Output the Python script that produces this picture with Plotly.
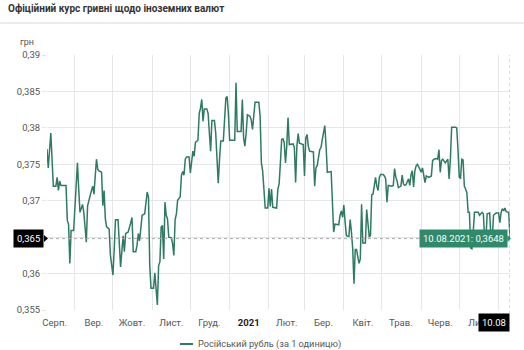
import plotly.graph_objects as go

# ---- data -------------------------------------------------------------
dates = [
    "2020-08-10", "2020-08-11", "2020-08-13", "2020-08-14", "2020-08-15", "2020-08-17", "2020-08-18",
    "2020-08-19", "2020-08-20", "2020-08-21", "2020-08-25", "2020-08-26", "2020-08-27", "2020-08-28",
    "2020-08-29", "2020-08-31", "2020-09-01", "2020-09-03", "2020-09-04", "2020-09-05", "2020-09-07",
    "2020-09-08", "2020-09-10", "2020-09-11", "2020-09-13", "2020-09-15", "2020-09-16", "2020-09-17",
    "2020-09-18", "2020-09-19", "2020-09-20", "2020-09-22", "2020-09-23", "2020-09-24", "2020-09-25",
    "2020-09-26", "2020-09-28", "2020-09-29", "2020-10-01", "2020-10-02", "2020-10-03", "2020-10-05",
    "2020-10-06", "2020-10-07", "2020-10-09", "2020-10-10", "2020-10-11", "2020-10-13", "2020-10-15",
    "2020-10-16", "2020-10-17", "2020-10-19", "2020-10-20", "2020-10-21", "2020-10-22", "2020-10-23",
    "2020-10-24", "2020-10-26", "2020-10-27", "2020-10-28", "2020-10-29", "2020-10-30", "2020-10-31",
    "2020-11-02", "2020-11-03", "2020-11-04", "2020-11-05", "2020-11-06", "2020-11-07", "2020-11-08",
    "2020-11-09", "2020-11-10", "2020-11-11", "2020-11-12", "2020-11-13", "2020-11-14", "2020-11-16",
    "2020-11-17", "2020-11-18", "2020-11-19", "2020-11-20", "2020-11-21", "2020-11-23", "2020-11-24",
    "2020-11-25", "2020-11-26", "2020-11-27", "2020-11-28", "2020-11-30", "2020-12-01", "2020-12-02",
    "2020-12-03", "2020-12-04", "2020-12-05", "2020-12-07", "2020-12-08", "2020-12-09", "2020-12-10",
    "2020-12-11", "2020-12-12", "2020-12-14", "2020-12-15", "2020-12-16", "2020-12-17", "2020-12-18",
    "2020-12-20", "2020-12-21", "2020-12-22", "2020-12-23", "2020-12-24", "2020-12-25", "2020-12-27",
    "2020-12-28", "2020-12-29", "2020-12-30", "2020-12-31", "2021-01-01", "2021-01-05", "2021-01-06",
    "2021-01-07", "2021-01-10", "2021-01-11", "2021-01-12", "2021-01-13", "2021-01-14", "2021-01-15",
    "2021-01-17", "2021-01-18", "2021-01-19", "2021-01-20", "2021-01-21", "2021-01-24", "2021-01-25",
    "2021-01-26", "2021-01-27", "2021-01-28", "2021-01-29", "2021-01-31", "2021-02-01", "2021-02-02",
    "2021-02-03", "2021-02-04", "2021-02-07", "2021-02-08", "2021-02-09", "2021-02-10", "2021-02-11",
    "2021-02-12", "2021-02-13", "2021-02-14", "2021-02-15", "2021-02-16", "2021-02-17", "2021-02-20",
    "2021-02-21", "2021-02-22", "2021-02-23", "2021-02-24", "2021-02-25", "2021-02-28", "2021-03-01",
    "2021-03-02", "2021-03-03", "2021-03-04", "2021-03-05", "2021-03-08", "2021-03-09", "2021-03-10",
    "2021-03-11", "2021-03-13", "2021-03-14", "2021-03-15", "2021-03-17", "2021-03-18", "2021-03-19",
    "2021-03-22", "2021-03-23", "2021-03-24", "2021-03-25", "2021-03-28", "2021-03-29", "2021-03-30",
    "2021-03-31", "2021-04-01", "2021-04-02", "2021-04-03", "2021-04-05", "2021-04-06", "2021-04-07",
    "2021-04-08", "2021-04-09", "2021-04-10", "2021-04-11", "2021-04-12", "2021-04-13", "2021-04-14",
    "2021-04-15", "2021-04-16", "2021-04-18", "2021-04-19", "2021-04-20", "2021-04-21", "2021-04-22",
    "2021-04-23", "2021-04-24", "2021-04-26", "2021-04-27", "2021-04-28", "2021-04-29", "2021-04-30",
    "2021-05-02", "2021-05-03", "2021-05-04", "2021-05-05", "2021-05-06", "2021-05-09", "2021-05-10",
    "2021-05-11", "2021-05-12", "2021-05-13", "2021-05-14", "2021-05-16", "2021-05-17", "2021-05-18",
    "2021-05-19", "2021-05-20", "2021-05-22", "2021-05-23", "2021-05-24", "2021-05-25", "2021-05-26",
    "2021-05-27", "2021-05-28", "2021-05-29", "2021-05-31", "2021-06-01", "2021-06-02", "2021-06-03",
    "2021-06-04", "2021-06-05", "2021-06-07", "2021-06-09", "2021-06-10", "2021-06-11", "2021-06-13",
    "2021-06-14", "2021-06-15", "2021-06-16", "2021-06-17", "2021-06-18", "2021-06-20", "2021-06-22",
    "2021-06-23", "2021-06-24", "2021-06-25", "2021-06-28", "2021-06-29", "2021-06-30", "2021-07-01",
    "2021-07-02", "2021-07-03", "2021-07-04", "2021-07-05", "2021-07-06", "2021-07-07", "2021-07-08",
    "2021-07-09", "2021-07-10", "2021-07-11", "2021-07-12", "2021-07-13", "2021-07-16", "2021-07-17",
    "2021-07-19", "2021-07-20", "2021-07-21", "2021-07-22", "2021-07-23", "2021-07-25", "2021-07-26",
    "2021-07-27", "2021-07-28", "2021-07-30", "2021-08-01", "2021-08-02", "2021-08-03", "2021-08-04",
    "2021-08-05", "2021-08-06", "2021-08-07", "2021-08-09", "2021-08-10",
]

rub_rate = [
    0.3771, 0.3745, 0.3793, 0.3743, 0.3720, 0.3720, 0.3732,
    0.3714, 0.3727, 0.3721, 0.3721, 0.3673, 0.3668, 0.3614,
    0.3659, 0.3659, 0.3693, 0.3752, 0.3716, 0.3684, 0.3695,
    0.3684, 0.3643, 0.3693, 0.3707, 0.3720, 0.3709, 0.3741,
    0.3757, 0.3743, 0.3741, 0.3739, 0.3693, 0.3714, 0.3675,
    0.3664, 0.3661, 0.3625, 0.3598, 0.3634, 0.3674, 0.3674,
    0.3639, 0.3609, 0.3652, 0.3630, 0.3655, 0.3657, 0.3670,
    0.3677, 0.3630, 0.3630, 0.3639, 0.3655, 0.3645, 0.3664,
    0.3680, 0.3682, 0.3702, 0.3712, 0.3705, 0.3611, 0.3580,
    0.3580, 0.3601, 0.3580, 0.3557, 0.3611, 0.3616, 0.3664,
    0.3666, 0.3620, 0.3698, 0.3680, 0.3675, 0.3650, 0.3649,
    0.3641, 0.3625, 0.3674, 0.3682, 0.3701, 0.3705, 0.3735,
    0.3740, 0.3735, 0.3757, 0.3760, 0.3760, 0.3738, 0.3755,
    0.3768, 0.3761, 0.3780, 0.3783, 0.3820, 0.3827, 0.3839,
    0.3809, 0.3826, 0.3826, 0.3820, 0.3793, 0.3768, 0.3810,
    0.3810, 0.3793, 0.3755, 0.3724, 0.3757, 0.3782, 0.3782,
    0.3816, 0.3841, 0.3843, 0.3820, 0.3783, 0.3783, 0.3862,
    0.3795, 0.3795, 0.3839, 0.3786, 0.3775, 0.3793, 0.3818,
    0.3816, 0.3811, 0.3798, 0.3818, 0.3835, 0.3835, 0.3816,
    0.3752, 0.3741, 0.3716, 0.3690, 0.3690, 0.3717, 0.3692,
    0.3716, 0.3691, 0.3690, 0.3716, 0.3723, 0.3752, 0.3784,
    0.3785, 0.3780, 0.3752, 0.3775, 0.3814, 0.3777, 0.3778,
    0.3773, 0.3725, 0.3775, 0.3792, 0.3779, 0.3777, 0.3734,
    0.3786, 0.3791, 0.3775, 0.3768, 0.3767, 0.3720, 0.3745,
    0.3748, 0.3770, 0.3773, 0.3784, 0.3803, 0.3775, 0.3739,
    0.3740, 0.3705, 0.3657, 0.3668, 0.3667, 0.3680, 0.3686,
    0.3677, 0.3694, 0.3671, 0.3652, 0.3651, 0.3674, 0.3657,
    0.3634, 0.3586, 0.3633, 0.3633, 0.3623, 0.3614, 0.3620,
    0.3695, 0.3642, 0.3642, 0.3688, 0.3670, 0.3651, 0.3652,
    0.3708, 0.3709, 0.3732, 0.3720, 0.3714, 0.3732, 0.3736,
    0.3736, 0.3734, 0.3730, 0.3698, 0.3721, 0.3720, 0.3721,
    0.3744, 0.3732, 0.3727, 0.3718, 0.3720, 0.3735, 0.3723,
    0.3721, 0.3722, 0.3730, 0.3721, 0.3736, 0.3741, 0.3719,
    0.3741, 0.3748, 0.3750, 0.3743, 0.3739, 0.3745, 0.3732,
    0.3725, 0.3734, 0.3732, 0.3734, 0.3755, 0.3757, 0.3758,
    0.3757, 0.3770, 0.3739, 0.3755, 0.3757, 0.3752, 0.3757,
    0.3730, 0.3757, 0.3801, 0.3801, 0.3800, 0.3770, 0.3732,
    0.3731, 0.3757, 0.3756, 0.3720, 0.3716, 0.3711, 0.3684,
    0.3684, 0.3635, 0.3634, 0.3657, 0.3684, 0.3684, 0.3680,
    0.3684, 0.3682, 0.3648, 0.3646, 0.3682, 0.3683, 0.3648,
    0.3646, 0.3680, 0.3683, 0.3683, 0.3670, 0.3684, 0.3689,
    0.3686, 0.3690, 0.3685, 0.3684, 0.3648,
]

y_tickvals = [0.355, 0.36, 0.365, 0.37, 0.375, 0.38, 0.385, 0.39]
y_ticktext = ["0,355", "0,36", "0,365", "0,37", "0,375", "0,38", "0,385", "0,39"]

month_starts = ["2020-09-01", "2020-10-01", "2020-11-01", "2020-12-01", "2021-01-01", "2021-02-01",
                "2021-03-01", "2021-04-01", "2021-05-01", "2021-06-01", "2021-07-01", "2021-08-01"]
month_mids = ["2020-08-16", "2020-09-16", "2020-10-16", "2020-11-16", "2020-12-16", "2021-01-16",
              "2021-02-15", "2021-03-16", "2021-04-16", "2021-05-16", "2021-06-16", "2021-07-16"]
month_labels = ["Серп.", "Вер.", "Жовт.", "Лист.", "Груд.", "<b><span style='color:#222'>2021</span></b>",
                "Лют.", "Бер.", "Квіт.", "Трав.", "Черв.", "Лип."]

title_text = "Офіційний курс гривні щодо іноземних валют"
unit_text = "грн"
series_name = "Російський рубль (за 1 одиницю)"

# ---- style ------------------------------------------------------------
FONT = "Roboto, sans-serif"
LINE = "#2f7a63"
TIP = "#2e8a6b"
GRID = "#e6e6e6"
TXT = "#555555"
W, H = 524, 350
L, R, T, B = 47, 510, 55, 310
Y0, Y1 = 0.355, 0.39


def px(x):
    return (x - L) / (R - L)


def py(y):
    return (B - y) / (B - T)


last_date = dates[-1]
last_val = rub_rate[-1]
d = last_date.split("-")
tip_text = f"{d[2]}.{d[1]}.{d[0]}: " + f"{last_val:.4f}".replace(".", ",")
ylab_text = f"{last_val:.3f}".replace(".", ",")
xlab_text = f"{d[2]}.{d[1]}"
yc = T + (Y1 - last_val) / (Y1 - Y0) * (B - T)  # pixel row of the last value


def tri(x0, x1, yc, h):
    pts = [(x0, yc - h), (x1, yc), (x0, yc + h)]
    return "M " + " L ".join(f"{px(a):.5f},{py(b):.5f}" for a, b in pts) + " Z"


fig = go.Figure()
fig.add_trace(go.Scatter(x=dates, y=rub_rate, mode="lines", name=series_name,
                         line=dict(color=LINE, width=1.5), hoverinfo="skip"))

fig.update_layout(
    width=W, height=H,
    margin=dict(l=L, r=W - R, t=T, b=H - B),
    paper_bgcolor="white", plot_bgcolor="white",
    showlegend=False,
    font=dict(family=FONT, size=10, color=TXT),
)

fig.update_xaxes(
    type="date", range=[dates[0], dates[-1]],
    tickmode="array", tickvals=month_mids, ticktext=month_labels,
    showgrid=False, zeroline=False, showline=False, ticks="",
    ticklabelstandoff=5,
    tickfont=dict(size=9.5, color=TXT),
    minor=dict(tickmode="array", tickvals=month_starts, showgrid=True, gridcolor=GRID, gridwidth=1, ticks=""),
)
fig.update_yaxes(
    range=[Y0, Y1], tickmode="array", tickvals=y_tickvals, ticktext=y_ticktext,
    showgrid=True, gridcolor=GRID, gridwidth=1, zeroline=False, showline=False,
    ticks="outside", ticklen=4, tickcolor=GRID,
    tickfont=dict(size=9.5, color=TXT),
)

shapes = [
    # header separator
    dict(type="line", xref="paper", yref="paper", x0=px(0), x1=px(W), y0=py(23), y1=py(23),
         line=dict(color="#e4e4e4", width=1.5)),
    # crosshair lines
    dict(type="line", xref="paper", yref="y", x0=px(44), x1=1, y0=last_val, y1=last_val,
         line=dict(color="#aaaaaa", width=1, dash="dot")),
    dict(type="line", xref="x", yref="paper", x0=last_date, x1=last_date, y0=py(B + 4), y1=1,
         line=dict(color="#bbbbbb", width=1, dash="dot")),
    # pointers of the value labels
    dict(type="path", xref="paper", yref="paper", path=tri(44, 48, yc, 3.5),
         fillcolor="#000000", line=dict(width=0)),
    dict(type="path", xref="paper", yref="paper", path=tri(507.5, 511, yc, 3.5),
         fillcolor=TIP, line=dict(width=0)),
    # legend sample
    dict(type="line", xref="paper", yref="paper", x0=px(180), x1=px(193), y0=py(344), y1=py(344),
         line=dict(color=LINE, width=2)),
]
fig.update_layout(shapes=shapes)

annotations = [
    dict(text=title_text, xref="paper", yref="paper", x=px(6), y=py(9), xanchor="left", yanchor="middle",
         showarrow=False, font=dict(size=10, color="#333333", weight="bold")),
    dict(text=unit_text, xref="paper", yref="paper", x=px(18), y=py(42), xanchor="left", yanchor="middle",
         showarrow=False, font=dict(size=9, color=TXT)),
    dict(text=ylab_text, xref="paper", yref="y", x=px(44), y=last_val, xanchor="right", yanchor="middle",
         showarrow=False, bgcolor="#000000", borderpad=3, font=dict(size=9.5, color="white")),
    dict(text=tip_text, xref="x", yref="y", x=last_date, y=last_val, xanchor="right", yanchor="middle",
         xshift=-2.5, showarrow=False, bgcolor=TIP, borderpad=3, font=dict(size=9.5, color="white")),
    dict(text=xlab_text, xref="x", yref="paper", x=last_date, y=py(313), xanchor="right", yanchor="top",
         showarrow=False, bgcolor="#000000", borderpad=3, font=dict(size=9.5, color="white")),
    dict(text=series_name, xref="paper", yref="paper", x=px(196), y=py(344), xanchor="left", yanchor="middle",
         showarrow=False, font=dict(size=9.2, color=TXT)),
]
fig.update_layout(annotations=annotations)

fig.write_html("out.html")
